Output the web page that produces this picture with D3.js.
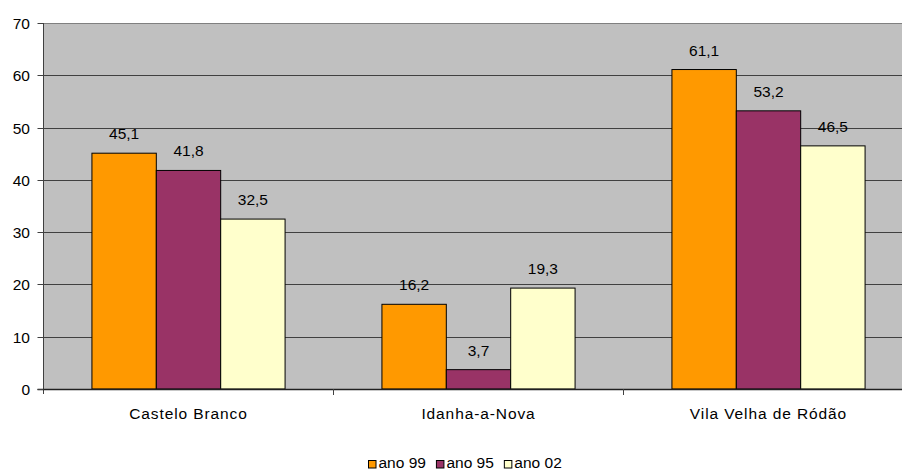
<!DOCTYPE html>
<html><head><meta charset="utf-8">
<script src="https://cdn.jsdelivr.net/npm/d3@7"></script>
<style>body{margin:0;background:#fff}svg{display:block;font-family:"Liberation Sans",Arial,sans-serif}</style>
</head><body><svg id="c" width="902" height="473"></svg>
<script>
const categories = ["Castelo Branco", "Idanha-a-Nova", "Vila Velha de Ródão"];
const seriesNames = ["ano 99", "ano 95", "ano 02"];
const ano99 = [45.1, 16.2, 61.1];
const ano95 = [41.8, 3.7, 53.2];
const ano02 = [32.5, 19.3, 46.5];
const yTicks = [0, 10, 20, 30, 40, 50, 60, 70];
const colors = ["#FF9900", "#993366", "#FFFFCC"];
const seriesValues = [ano99, ano95, ano02];

(function () {
const svg = d3.select("#c");
const pL = 43.5, pT = 23, pR = 913.5, pB = 389;
const fs = 15.5;
const x = d3.scaleBand().domain(categories).range([pL, pR]).padding(0);
const y = d3.scaleLinear().domain([0, 70]).range([pB, pT]);
const barW = x.bandwidth() * 0.222;

svg.append("rect").attr("x", pL).attr("y", pT).attr("width", pR - pL).attr("height", pB - pT).attr("fill", "#C0C0C0");
svg.append("line").attr("x1", pL).attr("x2", pR).attr("y1", pT + 0.5).attr("y2", pT + 0.5).attr("stroke", "#808080");

const g = svg.append("g");
yTicks.filter(t => t > 0 && t < 70).forEach(t => {
  g.append("line").attr("x1", pL).attr("x2", pR).attr("y1", Math.round(y(t)) + 0.5).attr("y2", Math.round(y(t)) + 0.5).attr("stroke", "#404040").attr("stroke-width", 1);
});

const fmt = v => String(v).replace(".", ",");
categories.forEach((c, i) => {
  const cx = x(c) + x.bandwidth() / 2;
  seriesValues.forEach((vals, s) => {
    const bx = cx - 1.5 * barW + s * barW;
    const v = vals[i];
    g.append("rect").attr("x", bx).attr("y", y(v)).attr("width", barW).attr("height", y(0) - y(v))
      .attr("fill", colors[s]).attr("stroke", "#000").attr("stroke-width", 1);
    g.append("text").attr("x", bx + barW / 2).attr("y", y(v) - 14).attr("text-anchor", "middle")
      .attr("font-size", fs).attr("fill", "#000").text(fmt(v));
  });
});

svg.append("line").attr("x1", pL).attr("x2", pL).attr("y1", pT).attr("y2", pB + 5).attr("stroke", "#404040");
svg.append("line").attr("x1", pL - 6).attr("x2", pR).attr("y1", pB + 0.5).attr("y2", pB + 0.5).attr("stroke", "#202020").attr("stroke-width", 1.5);
yTicks.forEach(t => {
  svg.append("line").attr("x1", pL - 6).attr("x2", pL).attr("y1", Math.round(y(t)) + 0.5).attr("y2", Math.round(y(t)) + 0.5).attr("stroke", "#404040");
  svg.append("text").attr("x", 30).attr("y", y(t) + 6).attr("text-anchor", "end").attr("font-size", fs).text(t);
});
categories.forEach((c, i) => {
  const bx = x(c);
  svg.append("line").attr("x1", bx + x.bandwidth()).attr("x2", bx + x.bandwidth()).attr("y1", pB).attr("y2", pB + 6).attr("stroke", "#404040");
  svg.append("text").attr("x", bx + x.bandwidth() / 2).attr("y", 419).attr("text-anchor", "middle")
    .attr("font-size", fs).attr("letter-spacing", 0.9).text(c);
});

const lg = svg.append("g");
let lx = 368;
seriesNames.forEach((n, s) => {
  lg.append("rect").attr("x", lx + 0.5).attr("y", 460.5).attr("width", 7.5).attr("height", 7.5).attr("fill", colors[s]).attr("stroke", "#000");
  const t = lg.append("text").attr("x", lx + 10.5).attr("y", 468).attr("font-size", fs).text(n);
  lx += 10.5 + t.node().getComputedTextLength() + 10;
});
})();
</script></body></html>
